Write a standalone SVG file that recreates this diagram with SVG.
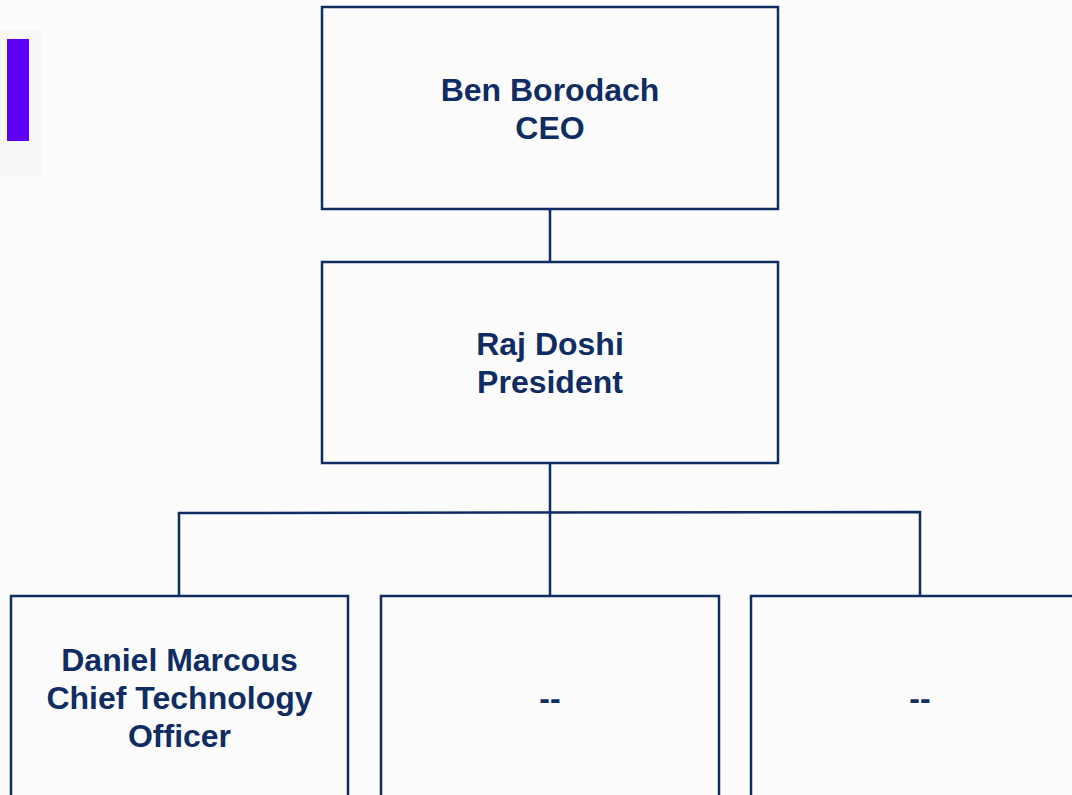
<svg xmlns="http://www.w3.org/2000/svg" width="1072" height="795" viewBox="0 0 1072 795">
<style>
.box{fill:#fcfcfc;stroke:#0f2d63;stroke-width:2.5}
.ln{stroke:#0f2d63;stroke-width:2.5;fill:none}
.t{font-family:"Liberation Sans",Arial,sans-serif;font-weight:bold;font-size:32px;fill:#0f2d63;text-anchor:middle}
</style>
<rect x="0" y="0" width="1072" height="795" fill="#fcfcfc"/>
<rect x="0" y="30" width="41" height="146" fill="#f7f7f7"/>
<rect x="7" y="39" width="22" height="102" fill="#5b00f5"/>
<g id="connectors">
<line class="ln" x1="550" y1="209" x2="550" y2="262"/>
<line class="ln" x1="550" y1="463" x2="550" y2="596"/>
<polyline class="ln" points="179,596 179,513 920,512 920,596"/>
</g>
<g id="ceo">
<rect class="box" x="322" y="7" width="456" height="202"/>
<text class="t" x="550" y="101">Ben Borodach</text>
<text class="t" x="550" y="139">CEO</text>
</g>
<g id="president">
<rect class="box" x="322" y="262" width="456" height="201"/>
<text class="t" x="550" y="355">Raj Doshi</text>
<text class="t" x="550" y="393">President</text>
</g>
<g id="cto">
<rect class="box" x="11" y="596" width="337" height="220"/>
<text class="t" x="179.5" y="671">Daniel Marcous</text>
<text class="t" x="179.5" y="709">Chief Technology</text>
<text class="t" x="179.5" y="747">Officer</text>
</g>
<g id="vacant1">
<rect class="box" x="381" y="596" width="338" height="220"/>
<text class="t" x="550" y="709">--</text>
</g>
<g id="vacant2">
<rect class="box" x="751" y="596" width="338" height="220"/>
<text class="t" x="920" y="709">--</text>
</g>
</svg>
